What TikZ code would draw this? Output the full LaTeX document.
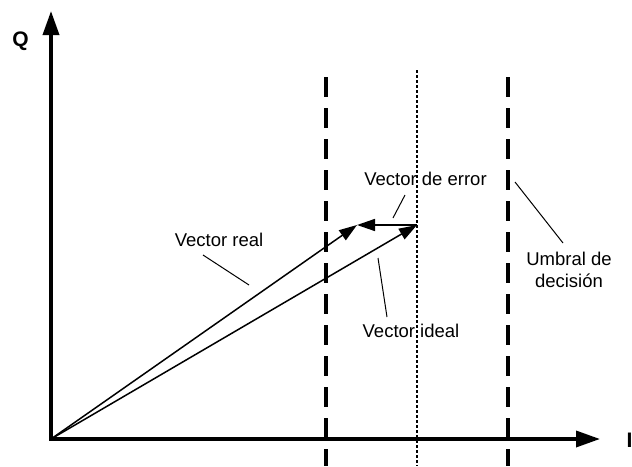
\documentclass[tikz,border=0pt]{standalone}
\usepackage{fontspec}
\setmainfont{Liberation Sans}
\usetikzlibrary{arrows.meta}
\begin{document}
\begin{tikzpicture}[x=1pt,y=-1pt,
  lbl/.style={font=\fontsize{18.5}{22}\selectfont, inner sep=0pt, anchor=base},
  axl/.style={font=\fontsize{21}{24}\selectfont\bfseries, inner sep=0pt},
  axis/.style={line width=3.5pt, -{Triangle[length=24pt,width=16pt]}},
  thr/.style={line width=4pt, dash pattern=on 20pt off 11pt},
  idl/.style={line width=2.5pt, dash pattern=on 3pt off 2pt},
  vec/.style={line width=1.5pt, -{Triangle[length=18pt,width=12pt]}},
  lead/.style={line width=1pt}]
\useasboundingbox (0,0) rectangle (632,466);
% coordinates
\coordinate (O) at (51,439);
\coordinate (Qtip) at (51,11);
\coordinate (Itip) at (600,439);
\coordinate (E) at (417,225);
\coordinate (R) at (357,225);
\coordinate (t1a) at (326,77);
\coordinate (t1b) at (326,466);
\coordinate (t2a) at (508,77);
\coordinate (t2b) at (508,466);
\coordinate (da) at (417,70);
\coordinate (db) at (417,466);
% threshold and ideal lines
\draw[thr] (t1a) -- (t1b);
\draw[thr] (t2a) -- (t2b);
\draw[idl] (da) -- (db);
% axes
\draw[axis] (O) -- (Qtip);
\draw[axis] ([xshift=-1.75pt]O) -- (Itip);
\node[axl, anchor=base] (Q) at (20.5,46) {Q};
\node[axl, anchor=base west] (I) at (626.5,447) {I};
% vectors
\draw[vec] (O) -- (E);
\draw[vec] (O) -- (R);
\draw[vec] (E) -- (R);
% labels
\node[lbl] (lreal) at (219,246) {Vector real};
\node[lbl] (lerr) at (425.5,185) {Vector de error};
\node[lbl] (lideal) at (411,337) {Vector ideal};
\node[lbl] (lumb1) at (569,265) {Umbral de};
\node[lbl] (lumb2) at (569,287) {decisión};
% leader lines
\coordinate (r1) at (203,255); \coordinate (r2) at (249,285);
\coordinate (e1) at (405,195); \coordinate (e2) at (393,218);
\coordinate (i1) at (378,258); \coordinate (i2) at (387,317);
\coordinate (u1) at (515,182); \coordinate (u2) at (563,243);
\draw[lead] (r1) -- (r2);
\draw[lead] (e1) -- (e2);
\draw[lead] (i1) -- (i2);
\draw[lead] (u1) -- (u2);
\end{tikzpicture}
\end{document}
